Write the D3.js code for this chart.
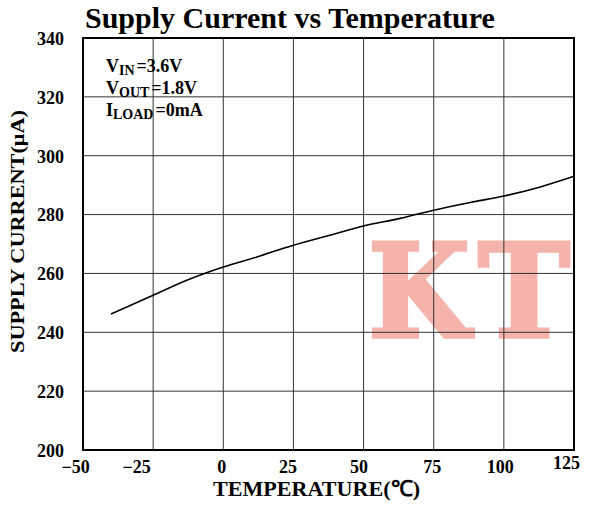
<!DOCTYPE html>
<html><head><meta charset="utf-8">
<script src="https://cdn.jsdelivr.net/npm/d3@7"></script>
<style>
html,body{margin:0;padding:0;background:#fff;}
</style></head>
<body>
<svg id="chart" width="596" height="506"></svg>
<script>
const temperature = [-40, -25, -13, 0, 12, 25, 38, 50, 63, 75, 88, 100, 113, 125];
const supplyCurrent = [246.2, 252.6, 257.7, 262.2, 265.6, 269.6, 273.0, 276.1, 278.7, 281.5, 284.1, 286.3, 289.4, 293.0];
const xTicks = [-50, -25, 0, 25, 50, 75, 100, 125];
const xTickLabels = ["−50", "−25", "0", "25", "50", "75", "100", "125"];
const yTicks = [200, 220, 240, 260, 280, 300, 320, 340];
const titleText = "Supply Current vs Temperature";
const xLabel = "TEMPERATURE(℃)";
const yLabel = "SUPPLY CURRENT(μA)";
const conditions = [["V", "IN", "=3.6V"], ["V", "OUT", "=1.8V"], ["I", "LOAD", "=0mA"]];
const watermarkLetters = ["K", "T"];

const SERIF = "'Liberation Serif','Times New Roman',serif";
const svg = d3.select("#chart").style("font-family", SERIF);
const L = 83, R = 574, T = 38, B = 450;
const x = d3.scaleLinear().domain([-50, 125]).range([L, R]);
const y = d3.scaleLinear().domain([200, 340]).range([B, T]);

// watermark (under grid)
const wm = svg.append("g");
[[368, 102], [478, 92]].forEach((p, i) => {
  wm.append("text")
    .attr("x", p[0]).attr("y", 337)
    .style("font-family", "'DejaVu Serif',serif")
    .attr("font-weight", "bold")
    .attr("font-size", 130)
    .attr("textLength", p[1]).attr("lengthAdjust", "spacingAndGlyphs")
    .attr("fill", "#f4b3ab").attr("stroke", "#f4b3ab").attr("stroke-width", 3.5)
    .attr("stroke-linejoin", "miter")
    .text(watermarkLetters[i]);
});

// grid
const grid = svg.append("g");
grid.selectAll("line.v").data(xTicks.slice(1, -1)).join("line")
  .attr("x1", d => x(d)).attr("x2", d => x(d)).attr("y1", T).attr("y2", B)
  .attr("stroke", "#333").attr("stroke-width", 1);
grid.selectAll("line.h").data(yTicks.slice(1, -1)).join("line")
  .attr("y1", d => y(d)).attr("y2", d => y(d)).attr("x1", L).attr("x2", R)
  .attr("stroke", "#333").attr("stroke-width", 1);

// frame
svg.append("rect").attr("x", L).attr("y", T).attr("width", R - L).attr("height", B - T)
  .attr("fill", "none").attr("stroke", "#000").attr("stroke-width", 2);

// axes (labels only)
const xNudge = {"-50": -8, "-25": -17, "0": -2, "25": -6, "50": -5, "75": -2, "100": -4, "125": -8};
const xAxis = d3.axisBottom(x).tickValues(xTicks).tickSize(0).tickPadding(0)
  .tickFormat((d, i) => xTickLabels[i]);
const gx = svg.append("g").attr("transform", `translate(0,${B})`).call(xAxis);
gx.select(".domain").remove();
gx.selectAll("text").attr("dy", null).attr("y", 23)
  .attr("x", d => xNudge[String(d)])
  .attr("font-size", 18).attr("font-weight", "bold").attr("fill", "#000")
  .style("font-family", SERIF);
gx.selectAll("text").filter(d => d === 125).attr("y", 19);

const yAxis = d3.axisLeft(y).tickValues(yTicks).tickSize(0).tickPadding(0);
const gy = svg.append("g").attr("transform", `translate(${L - 19},0)`).call(yAxis);
gy.select(".domain").remove();
gy.selectAll("text").attr("dy", "0.35em")
  .attr("font-size", 18).attr("font-weight", "bold").attr("fill", "#000")
  .style("font-family", SERIF);

// curve
const line = d3.line().x((d, i) => x(temperature[i])).y(d => y(d)).curve(d3.curveMonotoneX);
svg.append("path").datum(supplyCurrent).attr("d", line)
  .attr("fill", "none").attr("stroke", "#000").attr("stroke-width", 1.6);

// title
svg.append("text").attr("x", 85).attr("y", 28)
  .attr("font-size", 30).attr("font-weight", "bold").attr("fill", "#000")
  .text(titleText);

// axis titles
svg.append("text").attr("x", 213).attr("y", 496)
  .attr("font-size", 22).attr("font-weight", "bold")
  .attr("textLength", 207).attr("lengthAdjust", "spacingAndGlyphs")
  .text(xLabel);
svg.append("text").attr("transform", "translate(24,353) rotate(-90)")
  .attr("font-size", 18).attr("font-weight", "bold")
  .attr("textLength", 243).attr("lengthAdjust", "spacingAndGlyphs")
  .text(yLabel);

// conditions
const cond = svg.append("g");
conditions.forEach((c, i) => {
  const t = cond.append("text").attr("x", 106).attr("y", 72 + i * 22)
    .attr("font-size", 18).attr("font-weight", "bold").attr("fill", "#000");
  t.append("tspan").text(c[0]);
  t.append("tspan").attr("font-size", 14).attr("dy", 3).text(c[1]);
  t.append("tspan").attr("dy", -3).attr("dx", 2).text(c[2]);
});
</script>
</body></html>
